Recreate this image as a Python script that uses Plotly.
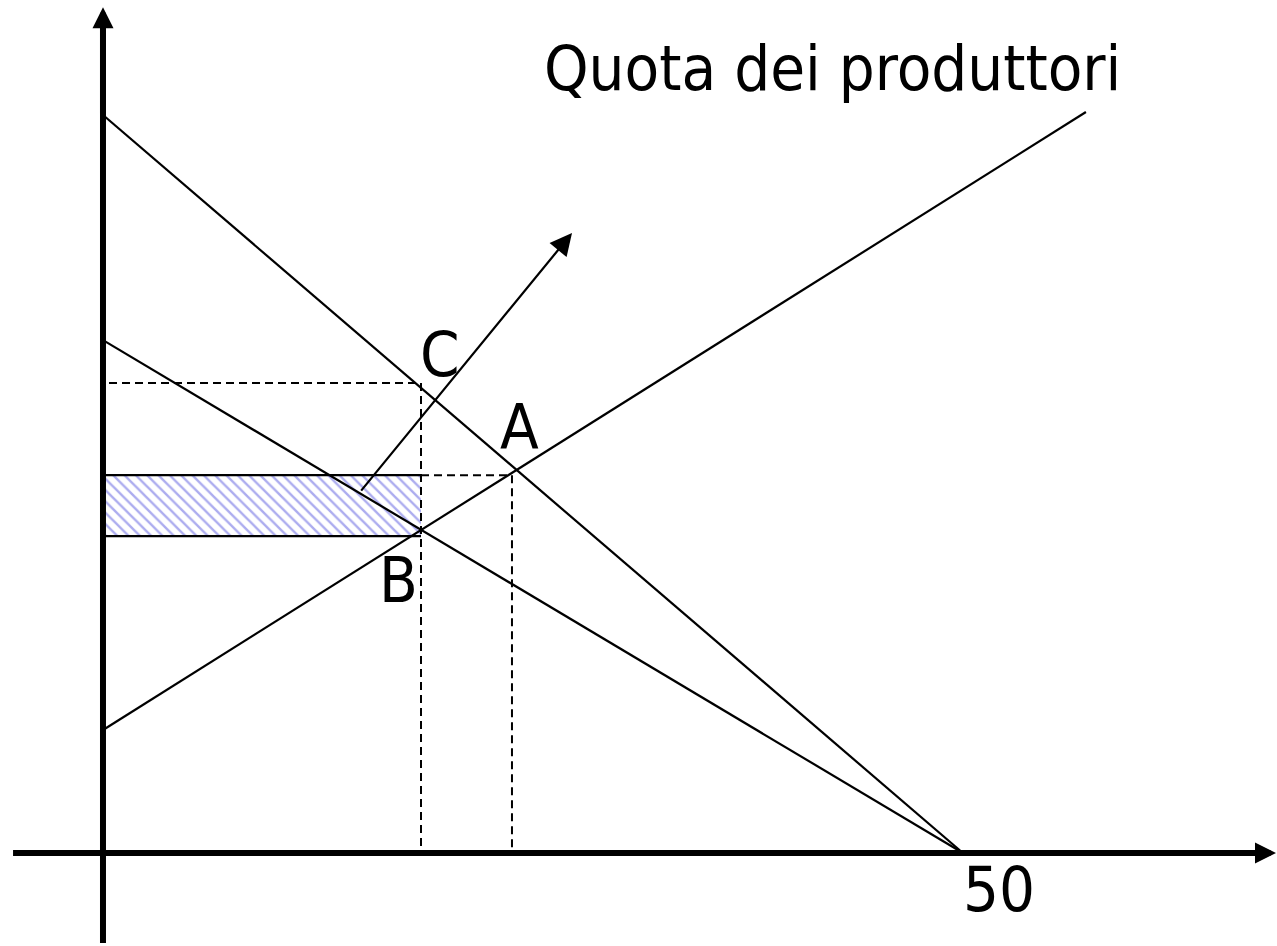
import plotly.graph_objects as go

# ---- data (economic diagram values) ----
demand_q = [0, 50]
demand_p = [100, 0]
mr_q = [0, 50]
mr_p = [69.5, 0]
supply_q = [0, 57.15]
supply_p = [16.67, 100.4]

q_quota = 18.49      # quantity at B / C
p_C = 63.7           # price at C
q_A = 23.78          # quantity at A
p_A = 51.2           # price at A
p_low = 42.95        # lower edge of shaded rectangle

arrow_tail = (14.94, 48.9)
arrow_head = (27.27, 84.0)

label_text = ["C", "A", "B", "50"]
label_q = [19.6, 24.2, 17.2, 52.1]
label_p = [67.6, 57.6, 36.9, -5.0]

title_text = "Quota dei produttori"
title_q = 42.4
title_p = 106.3

x_range = [-5.988, 68.26]
y_range = [-12.60, 115.58]

FONT = "DejaVu Sans Condensed, DejaVu Sans, sans-serif"

fig = go.Figure()

# shaded rectangle (hatched)
fig.add_trace(go.Scatter(
    x=[0, q_quota, q_quota, 0, 0],
    y=[p_low, p_low, p_A, p_A, p_low],
    mode="none", fill="toself", fillcolor="rgba(0,0,0,0)",
    fillpattern=dict(shape="\\", fgcolor="#5a5ae0", bgcolor="white",
                     size=8, solidity=0.3),
    hoverinfo="skip", showlegend=False))
# rectangle top and bottom edges
for pv in (p_low, p_A):
    fig.add_trace(go.Scatter(x=[0, q_quota], y=[pv, pv], mode="lines",
                             line=dict(color="black", width=2.2),
                             hoverinfo="skip", showlegend=False))

# axes lines (thick)
fig.add_trace(go.Scatter(x=[0, 0], y=[-12.2, 112.0], mode="lines",
                         line=dict(color="black", width=6),
                         hoverinfo="skip", showlegend=False))
fig.add_trace(go.Scatter(x=[-5.23, 67.3], y=[0, 0], mode="lines",
                         line=dict(color="black", width=6),
                         hoverinfo="skip", showlegend=False))

# main lines
for qs, ps in ((demand_q, demand_p), (mr_q, mr_p), (supply_q, supply_p)):
    fig.add_trace(go.Scatter(x=qs, y=ps, mode="lines",
                             line=dict(color="black", width=2.2),
                             hoverinfo="skip", showlegend=False))

# dashed guide lines
dash = "8px,5px"
fig.add_trace(go.Scatter(x=[0.35, q_quota, q_quota], y=[p_C, p_C, 0], mode="lines",
                         line=dict(color="black", width=2, dash=dash),
                         hoverinfo="skip", showlegend=False))
fig.add_trace(go.Scatter(x=[q_quota, q_A, q_A], y=[p_A, p_A, 0], mode="lines",
                         line=dict(color="black", width=2, dash=dash),
                         hoverinfo="skip", showlegend=False))

annotations = []
# axis arrowheads
annotations.append(dict(x=0, y=114.6, ax=0, ay=100, xref="x", yref="y",
                        axref="x", ayref="y", showarrow=True, arrowhead=2,
                        arrowsize=0.7, arrowwidth=6, arrowcolor="black", text=""))
annotations.append(dict(x=68.2, y=0, ax=60, ay=0, xref="x", yref="y",
                        axref="x", ayref="y", showarrow=True, arrowhead=2,
                        arrowsize=0.7, arrowwidth=6, arrowcolor="black", text=""))
# thin arrow
annotations.append(dict(x=arrow_head[0], y=arrow_head[1], ax=arrow_tail[0], ay=arrow_tail[1],
                        xref="x", yref="y", axref="x", ayref="y", showarrow=True,
                        arrowhead=2, arrowsize=2.0, arrowwidth=2.2, arrowcolor="black", text=""))
# labels
for t, q, p in zip(label_text, label_q, label_p):
    annotations.append(dict(x=q, y=p, xref="x", yref="y", text=t, showarrow=False,
                            font=dict(family=FONT, size=63, color="black")))
annotations.append(dict(x=title_q, y=title_p, xref="x", yref="y", text=title_text,
                        showarrow=False, font=dict(family=FONT, size=63, color="black")))

fig.update_layout(
    width=1277, height=946,
    margin=dict(l=0, r=0, t=0, b=0),
    paper_bgcolor="white", plot_bgcolor="white",
    xaxis=dict(range=x_range, visible=False, fixedrange=True),
    yaxis=dict(range=y_range, visible=False, fixedrange=True),
    annotations=annotations,
    showlegend=False,
)

fig.write_html("out.html", config={"displayModeBar": False},
               post_script="document.body.style.margin='0';document.body.style.overflow='hidden';")
